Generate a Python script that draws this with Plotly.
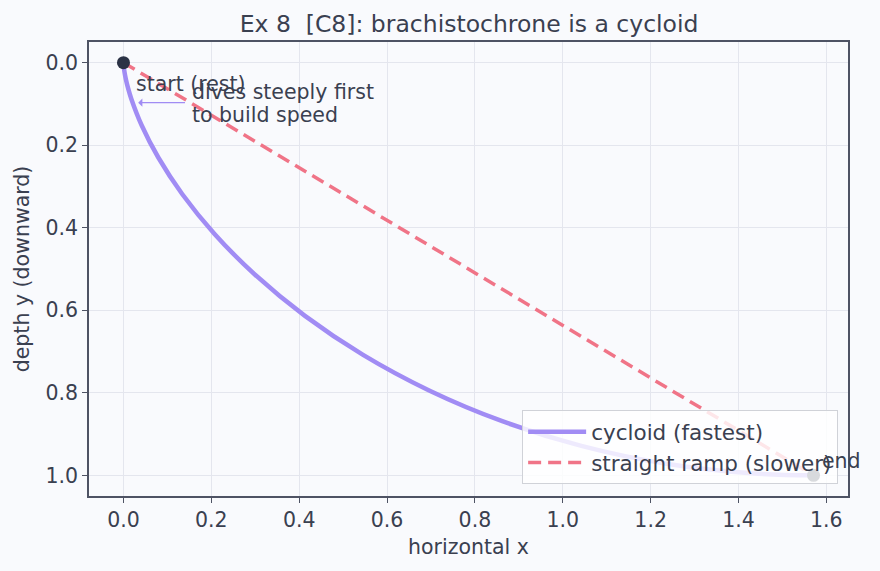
import plotly.graph_objects as go

# cycloid points
cyc_x = [0.0, 0.00008, 0.00067, 0.00224, 0.00529, 0.01029, 0.01768, 0.04132, 0.07927,
         0.13398, 0.20728, 0.30021, 0.41308, 0.54535, 0.69575, 0.86227, 1.04225,
         1.23251, 1.42944, 1.5708]
cyc_y = [0.0, 0.0025, 0.00997, 0.02233, 0.03947, 0.06121, 0.08733, 0.15165, 0.22985,
         0.31882, 0.41502, 0.5146, 0.6136, 0.70807, 0.79425, 0.8687, 0.92844,
         0.97111, 0.995, 1.0]
ramp_x = [0.0, 1.5708]
ramp_y = [0.0, 1.0]
ends_x = [0.0, 1.5708]
ends_y = [0.0, 1.0]
x_ticks = [0.0, 0.2, 0.4, 0.6, 0.8, 1.0, 1.2, 1.4, 1.6]
y_ticks = [0.0, 0.2, 0.4, 0.6, 0.8, 1.0]

FONT = "DejaVu Sans"
TXT = "#3a4050"
AX = "#4e5364"
FS = 20.5

fig = go.Figure()
fig.add_trace(go.Scatter(x=cyc_x, y=cyc_y, mode="lines", line_shape="spline",
                         line=dict(color="#a18cf4", width=4.5), name="cycloid (fastest)"))
fig.add_trace(go.Scatter(x=ramp_x, y=ramp_y, mode="lines",
                         line=dict(color="#f07487", width=3.5, dash="13px,7px"),
                         name="straight ramp (slower)"))
fig.add_trace(go.Scatter(x=ends_x, y=ends_y, mode="markers",
                         marker=dict(color="#2b3245", size=13), showlegend=False))

fig.add_annotation(x=0, y=0, text="start (rest)", showarrow=False, xanchor="left",
                   yanchor="middle", xshift=11, yshift=-21, font=dict(size=FS, color=TXT))
fig.add_annotation(x=ends_x[1], y=ends_y[1], text="end", showarrow=False, xanchor="left",
                   yanchor="middle", xshift=6, yshift=14, font=dict(size=FS, color=TXT))
fig.add_annotation(x=0.14, y=0.097, ax=0.03, ay=0.097, axref="x", ayref="y",
                   text="", showarrow=True, arrowhead=1, arrowsize=1.2, arrowwidth=1.4,
                   arrowcolor="#a18cf4", startstandoff=0, standoff=0, arrowside="start")
for line_text, shift in [("dives steeply first", 11.5), ("to build speed", -11.5)]:
    fig.add_annotation(x=0.152, y=0.1, text=line_text, showarrow=False, xanchor="left",
                       yanchor="middle", align="left", yshift=shift,
                       font=dict(size=FS, color=TXT))

axis_common = dict(showline=True, linecolor=AX, linewidth=1.6, mirror=True,
                   ticks="outside", ticklen=5, tickcolor=AX, showgrid=True,
                   gridcolor="#e4e6ee", gridwidth=1, zeroline=False,
                   tickfont=dict(size=FS, color=TXT), tickformat=".1f")

fig.update_layout(
    width=880, height=571,
    margin=dict(l=89, r=32, t=42, b=75),
    paper_bgcolor="#f9fafd", plot_bgcolor="#f9fafd",
    font=dict(family=FONT, color=TXT),
    title=dict(text="Ex 8  [C8]: brachistochrone is a cycloid", x=0.533, xanchor="center",
               y=0.958, yanchor="middle", font=dict(size=23.5, color=TXT)),
    xaxis=dict(range=[-0.0785, 1.6493], tickvals=x_ticks,
               title=dict(text="horizontal x", font=dict(size=FS, color=TXT), standoff=8),
               **axis_common),
    yaxis=dict(range=[1.05, -0.05], tickvals=y_ticks,
               title=dict(text="depth y (downward)", font=dict(size=FS, color=TXT), standoff=10),
               **axis_common),
    legend=dict(x=0.987, y=0.026, xanchor="right", yanchor="bottom",
                bgcolor="rgba(255,255,255,0.82)", bordercolor="#d0d2d8", borderwidth=1,
                font=dict(size=21.5, color=TXT), itemwidth=58, tracegroupgap=0),
)

fig.write_html("out.html")
